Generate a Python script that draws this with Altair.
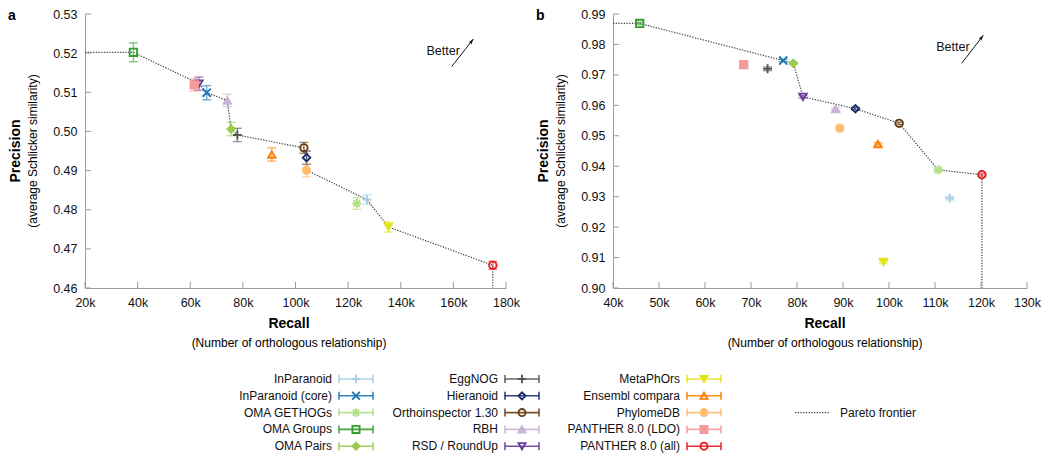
import altair as alt
import pandas as pd

# ---------------- data ----------------
methods = ["InParanoid", "InParanoid (core)", "OMA GETHOGs", "OMA Groups", "OMA Pairs",
           "EggNOG", "Hieranoid", "Orthoinspector 1.30", "RBH", "RSD / RoundUp",
           "MetaPhOrs", "Ensembl compara", "PhylomeDB", "PANTHER 8.0 (LDO)", "PANTHER 8.0 (all)"]

colors = ["#a6cee3", "#1f78b4", "#b2df8a", "#33a02c", "#9acd4c",
          "#555555", "#1b2a6b", "#6b3d12", "#cab2d6", "#6a3d9a",
          "#e3e31c", "#ff7f00", "#fdbf6f", "#f59a9a", "#e31a1c"]

PLUS = "M-1.2,0L1.2,0M0,-1.2L0,1.2"
XSYM = "M-1.1,-1.1L1.1,1.1M-1.1,1.1L1.1,-1.1"
AST = "M-1.25,0L1.25,0M0,-1.25L0,1.25M-0.9,-0.9L0.9,0.9M-0.9,0.9L0.9,-0.9"
shapes = [PLUS, XSYM, AST, "square", "diamond",
          PLUS, "diamond", "circle", "triangle-up", "triangle-down",
          "triangle-down", "triangle-up", "circle", "square", "circle"]
filled = [False, False, False, False, True,
          False, False, False, True, False,
          True, False, True, True, False]
fills = [c if f else "transparent" for c, f in zip(colors, filled)]

# panel a
recall_a = [127100, 66250, 123300, 38400, 75500, 77900, 104200, 103200, 74100, 63300,
            135300, 91000, 104200, 61500, 175000]
precision_a = [0.4826, 0.5099, 0.4816, 0.5202, 0.5006, 0.4991, 0.4933, 0.4958, 0.5079, 0.5122,
               0.4756, 0.4941, 0.4901, 0.5119, 0.4658]
error_a = [0.0012, 0.0018, 0.0015, 0.0024, 0.0017, 0.0017, 0.0017, 0.0014, 0.0016, 0.0017,
           0.0013, 0.0017, 0.0017, 0.0016, 0.0010]
frontier_a = ["OMA Groups", "RSD / RoundUp", "InParanoid (core)", "RBH", "OMA Pairs", "EggNOG",
              "Orthoinspector 1.30", "Hieranoid", "PhylomeDB", "InParanoid", "MetaPhOrs",
              "PANTHER 8.0 (all)"]
xdom_a = [20000, 180000]
ydom_a = [0.46, 0.53]
xticks_a = [20000, 40000, 60000, 80000, 100000, 120000, 140000, 160000, 180000]
yticks_a = [0.46, 0.47, 0.48, 0.49, 0.50, 0.51, 0.52, 0.53]
better_a = {"tx": 156100, "ty": 0.5206, "x0": 159400, "y0": 0.5166, "x1": 167600, "y1": 0.5236}

# panel b
recall_b = [113200, 77000, 110700, 45800, 79200, 73600, 92700, 102200, 88400, 81300,
            98800, 97600, 89300, 68400, 120200]
precision_b = [0.9295, 0.9747, 0.9388, 0.9869, 0.9738, 0.9720, 0.9589, 0.9541, 0.9588, 0.9628,
               0.9086, 0.9473, 0.9525, 0.9734, 0.9372]
error_b = [0.0006, 0.0004, 0.0004, 0.0004, 0.0004, 0.0006, 0.0004, 0.0004, 0.0004, 0.0004,
           0.0004, 0.0004, 0.0004, 0.0004, 0.0004]
frontier_b = ["OMA Groups", "InParanoid (core)", "OMA Pairs", "RSD / RoundUp", "Hieranoid",
              "Orthoinspector 1.30", "OMA GETHOGs", "PANTHER 8.0 (all)"]
xdom_b = [40000, 130000]
ydom_b = [0.90, 0.99]
xticks_b = [40000, 50000, 60000, 70000, 80000, 90000, 100000, 110000, 120000, 130000]
yticks_b = [0.90, 0.91, 0.92, 0.93, 0.94, 0.95, 0.96, 0.97, 0.98, 0.99]
better_b = {"tx": 113900, "ty": 0.9793, "x0": 115800, "y0": 0.9738, "x1": 120500, "y1": 0.9830}

# ---------------- style ----------------
FONT = "Liberation Sans"
AXIS_GRAY = "#9a9a9a"
FRONTIER_DASH = [1.3, 1.4]
ARROW = "M0,0L0.6,1.9L0,1.45L-0.6,1.9Z"
H = 274

color_scale = alt.Scale(domain=methods, range=colors)
fill_scale = alt.Scale(domain=methods, range=fills)
shape_scale = alt.Scale(domain=methods, range=shapes)


def text_layer(txt, x, y, size=12, bold=False, angle=0, align="center", baseline="middle"):
    return alt.Chart(pd.DataFrame({"t": [txt]})).mark_text(
        fontSize=size, fontWeight="bold" if bold else "normal", angle=angle,
        align=align, baseline=baseline, color="#000"
    ).encode(x=alt.value(x), y=alt.value(y), text="t:N")


def panel(rec, prec, err, frontier, xdom, ydom, xt, yt, better, W, H, letter, title_cx):
    df = pd.DataFrame({"method": methods, "recall": rec, "precision": prec, "err": err})
    df["lo"] = df["precision"] - df["err"]
    df["hi"] = df["precision"] + df["err"]

    xs = alt.Scale(domain=xdom, nice=False, zero=False)
    ys = alt.Scale(domain=ydom, nice=False, zero=False)
    xa = alt.Axis(values=xt, format="~s", ticks=False, grid=False, domainColor=AXIS_GRAY,
                  labelFontSize=12.5, labelColor="#111", labelPadding=8, title=None,
                  labelFlush=False)
    ya = alt.Axis(values=yt, format=".2f", ticks=False, grid=False, domainColor=AXIS_GRAY,
                  labelFontSize=12.5, labelColor="#111", labelPadding=8, title=None,
                  labelFlush=False, minExtent=77, maxExtent=77)
    X = lambda f: alt.X(f, scale=xs, axis=xa)
    Y = lambda f: alt.Y(f, scale=ys, axis=ya)

    # Pareto frontier: extended to the left axis and down to the bottom axis
    lookup = df.set_index("method")
    fx = [xdom[0]] + [lookup.loc[m, "recall"] for m in frontier] + [lookup.loc[frontier[-1], "recall"]]
    fy = [lookup.loc[frontier[0], "precision"]] + [lookup.loc[m, "precision"] for m in frontier] + [ydom[0]]
    fdf = pd.DataFrame({"recall": fx, "precision": fy, "order": list(range(len(fx)))})

    front = alt.Chart(fdf).mark_line(color="#444", strokeWidth=1.2, strokeDash=FRONTIER_DASH).encode(
        x=X("recall:Q"), y=Y("precision:Q"), order="order:Q")

    col = alt.Color("method:N", scale=color_scale, legend=None)
    ebar = alt.Chart(df).mark_rule(strokeWidth=1.4, opacity=0.6).encode(
        x=X("recall:Q"), y=Y("lo:Q"), y2="hi:Q", color=col)
    cap_lo = alt.Chart(df).mark_rule(strokeWidth=1.4, opacity=0.6, xOffset=-4.5, x2Offset=4.5).encode(
        x=X("recall:Q"), x2="recall:Q", y=Y("lo:Q"), color=col)
    cap_hi = alt.Chart(df).mark_rule(strokeWidth=1.4, opacity=0.6, xOffset=-4.5, x2Offset=4.5).encode(
        x=X("recall:Q"), x2="recall:Q", y=Y("hi:Q"), color=col)
    pts = alt.Chart(df).mark_point(size=55, strokeWidth=1.9, opacity=1, fillOpacity=1).encode(
        x=X("recall:Q"), y=Y("precision:Q"),
        shape=alt.Shape("method:N", scale=shape_scale, legend=None),
        stroke=alt.Stroke("method:N", scale=color_scale, legend=None),
        fill=alt.Fill("method:N", scale=fill_scale, legend=None))

    # inward axis ticks
    yt_df = pd.DataFrame({"precision": yt})
    xt_df = pd.DataFrame({"recall": xt})
    yticks = alt.Chart(yt_df).mark_rule(color=AXIS_GRAY, strokeWidth=1).encode(
        y=Y("precision:Q"), x=alt.value(0), x2=alt.value(6))
    xticks = alt.Chart(xt_df).mark_rule(color=AXIS_GRAY, strokeWidth=1).encode(
        x=X("recall:Q"), y=alt.value(H), y2=alt.value(H - 6))

    bdf = pd.DataFrame([better])
    arrow = alt.Chart(bdf).mark_rule(color="#111", strokeWidth=1).encode(
        x=X("x0:Q"), y=Y("y0:Q"), x2="x1:Q", y2="y1:Q")
    head = alt.Chart(bdf).mark_point(shape=ARROW, size=36, filled=True, color="#111",
                                     opacity=1, angle=38).encode(x=X("x1:Q"), y=Y("y1:Q"))
    btxt = alt.Chart(bdf.assign(t="Better")).mark_text(fontSize=12.5, color="#111").encode(
        x=X("tx:Q"), y=Y("ty:Q"), text="t:N")

    titles = [
        text_layer("Precision", -69, H / 2, size=14, bold=True, angle=270),
        text_layer("(average Schlicker similarity)", -52, H / 2, size=12, angle=270),
        text_layer("Recall", title_cx, H + 36, size=14, bold=True),
        text_layer("(Number of orthologous relationship)", title_cx, H + 55, size=12),
        text_layer(letter, -77, -5, size=14, bold=True, align="left", baseline="top"),
    ]

    return alt.layer(front, ebar, cap_lo, cap_hi, yticks, xticks, pts, arrow, head, btxt,
                     *titles).properties(width=W, height=H)


pa = panel(recall_a, precision_a, error_a, frontier_a, xdom_a, ydom_a, xticks_a, yticks_a,
           better_a, 421, H, "a", 204)
pb = panel(recall_b, precision_b, error_b, frontier_b, xdom_b, ydom_b, xticks_b, yticks_b,
           better_b, 414, H, "b", 212)

# ---------------- legend ----------------
leg_col = [0] * 5 + [1] * 5 + [2] * 5
leg_row = [0, 1, 2, 3, 4] * 3
ldf = pd.DataFrame({"method": methods, "col": leg_col, "row": leg_row})
LX = alt.Scale(domain=[0, 1, 2, 3], range=[247, 413, 595, 745])
LY = alt.Scale(domain=[0, 4], range=[20, 87.2])
lx = alt.X("col:Q", scale=LX, axis=None)
ly = alt.Y("row:Q", scale=LY, axis=None)
lcol = alt.Color("method:N", scale=color_scale, legend=None)

l_text = alt.Chart(ldf).mark_text(fontSize=12, align="right", baseline="middle", color="#111").encode(
    x=lx, y=ly, text="method:N")
l_line = alt.Chart(ldf).mark_rule(strokeWidth=1.6, xOffset=7, x2Offset=41, opacity=0.9).encode(
    x=lx, x2="col:Q", y=ly, color=lcol)
l_cap1 = alt.Chart(ldf).mark_rule(strokeWidth=1.6, xOffset=7, yOffset=-4, y2Offset=4, opacity=0.9).encode(
    x=lx, y=ly, y2="row:Q", color=lcol)
l_cap2 = alt.Chart(ldf).mark_rule(strokeWidth=1.6, xOffset=41, yOffset=-4, y2Offset=4, opacity=0.9).encode(
    x=lx, y=ly, y2="row:Q", color=lcol)
l_pts = alt.Chart(ldf).mark_point(size=50, strokeWidth=1.9, opacity=1, fillOpacity=1, xOffset=24).encode(
    x=lx, y=ly,
    shape=alt.Shape("method:N", scale=shape_scale, legend=None),
    stroke=alt.Stroke("method:N", scale=color_scale, legend=None),
    fill=alt.Fill("method:N", scale=fill_scale, legend=None))

pdf = pd.DataFrame({"label": ["Pareto frontier"], "col": [3], "row": [2]})
p_line = alt.Chart(pdf).mark_rule(color="#444", strokeWidth=1.2, strokeDash=FRONTIER_DASH,
                                  xOffset=-35, x2Offset=0).encode(x=lx, x2="col:Q", y=ly)
p_text = alt.Chart(pdf).mark_text(fontSize=12, align="left", baseline="middle", dx=10, color="#111").encode(
    x=lx, y=ly, text="label:N")

legend = alt.layer(l_line, l_cap1, l_cap2, l_pts, l_text, p_line, p_text).properties(width=850, height=92)

chart = alt.vconcat(
    alt.hconcat(pa, pb, spacing=16),
    legend,
    spacing=10,
).properties(
    padding={"top": 0, "left": 0, "right": 0, "bottom": 0}
).configure(font=FONT).configure_view(stroke=None)

chart.save("out.html", embed_options={"renderer": "svg", "actions": False})
